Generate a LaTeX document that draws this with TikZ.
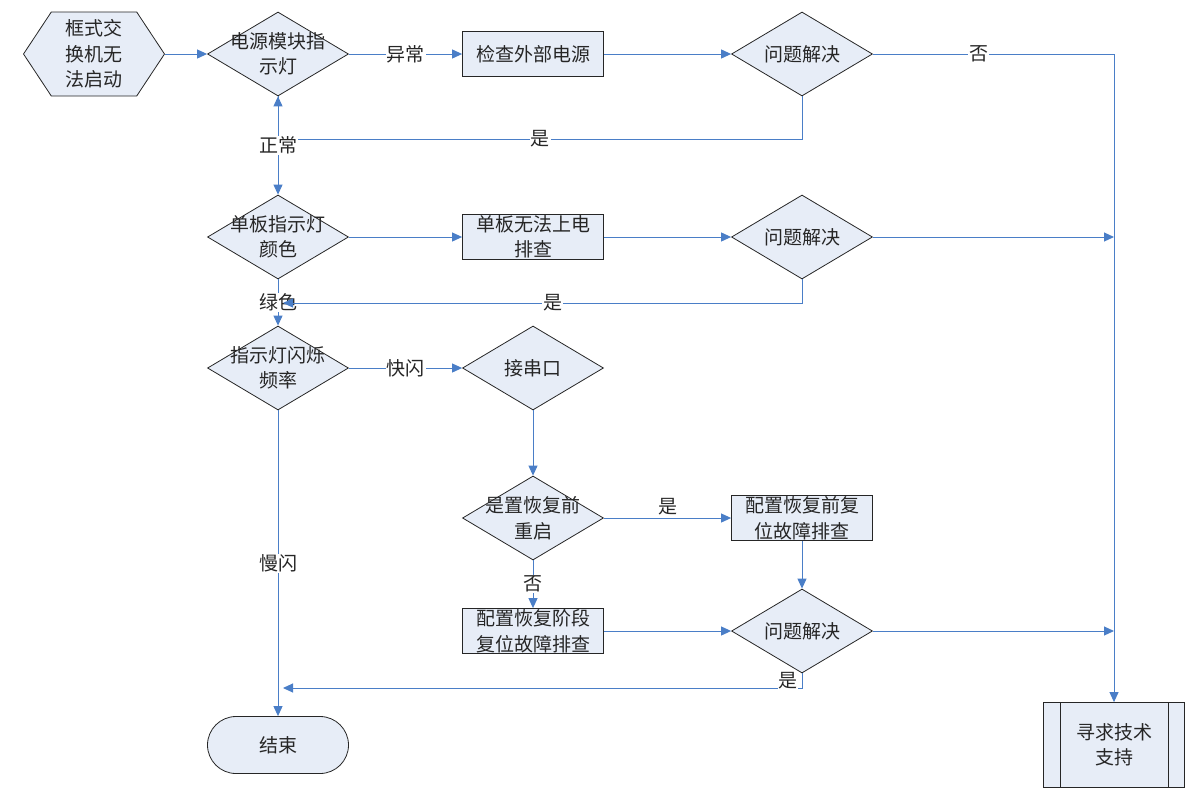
\documentclass[tikz,border=0pt]{standalone}
\usepackage{fontspec}
\setmainfont{Noto Sans CJK SC}
\usetikzlibrary{shapes.geometric,shapes.symbols,shapes.misc,arrows.meta}
\definecolor{fillc}{HTML}{E7EDF7}
\definecolor{linec}{HTML}{4A7EC7}
\begin{document}
\begin{tikzpicture}[x=1pt,y=-1pt,
  font=\fontsize{19}{25.5}\selectfont,
  base/.style={draw=black!85, fill=fillc, line width=0.8pt, inner sep=0pt, text=black!85},
  dia/.style={base, diamond, minimum width=141pt, minimum height=84pt},
  proc/.style={base, rectangle, minimum width=141pt, minimum height=45pt},
  txt/.style={align=center, inner sep=0pt, text=black!85},
  flow/.style={draw=linec, line width=1pt, -{Triangle[length=10pt,width=9pt]}},
  plain/.style={draw=linec, line width=1pt},
  lbl/.style={fill=white, inner sep=1pt, text=black!85}]
\useasboundingbox (0,0) rectangle (1204,790);

% nodes
\node[base, signal, signal to=west and east, signal pointer angle=113,
      minimum width=141pt, minimum height=84pt,
      label={[txt]center:框式交\\换机无\\法启动}] (start) at (94,54) {};
\node[dia, label={[txt]center:电源模块指\\示灯}] (d1) at (278,54) {};
\node[proc, label={[txt]center:检查外部电源}] (c1) at (533,54) {};
\node[dia, label={[txt]center:问题解决}] (q1) at (802,54) {};

\node[dia, label={[txt]center:单板指示灯\\颜色}] (d2) at (278,237) {};
\node[proc, label={[txt]center:单板无法上电\\排查}] (c2) at (533,237) {};
\node[dia, label={[txt]center:问题解决}] (q2) at (802,237) {};

\node[dia, label={[txt]center:指示灯闪烁\\频率}] (d3) at (278,368) {};
\node[dia, label={[txt]center:接串口}] (s1) at (533,368) {};
\node[dia, label={[txt]center:是置恢复前\\重启}] (s2) at (533,518) {};
\node[proc, label={[txt]center:配置恢复前复\\位故障排查}] (c3) at (802,518) {};
\node[proc, label={[txt]center:配置恢复阶段\\复位故障排查}] (c4) at (533,631) {};
\node[dia, label={[txt]center:问题解决}] (q3) at (802,631) {};

\node[base, rounded rectangle, minimum width=141pt, minimum height=57pt] (end) at (278,745) {结束};
\node[proc, minimum height=85pt, label={[txt]center:寻求技术\\支持}] (sup) at (1114,745) {};
\draw[draw=black!85, line width=0.8pt] ([xshift=17pt]sup.north west) -- ([xshift=17pt]sup.south west);
\draw[draw=black!85, line width=0.8pt] ([xshift=-17pt]sup.north east) -- ([xshift=-17pt]sup.south east);

% coordinates
\coordinate (k1) at (1114,54);
\coordinate (k2) at (1114,237);
\coordinate (k3) at (1114,631);
\coordinate (y1) at (802,139);
\coordinate (j1) at (278,139);
\coordinate (y2) at (802,303);
\coordinate (j2) at (283,303);
\coordinate (y3) at (802,688);
\coordinate (j3) at (283,688);

% row 1
\draw[flow] (start) -- (d1);
\draw[flow] (d1) -- node[lbl]{异常} (c1);
\draw[flow] (c1) -- (q1);
\draw[flow] (q1.east) -- node[lbl, pos=0.44]{否} (k1) -- (sup.north);
\draw[flow] (q1.south) -- (y1) -- node[lbl]{是} (j1) -- (d1.south);
\draw[flow] (d1.south) -- node[lbl]{正常} (d2.north);

% row 2
\draw[flow] (d2) -- (c2);
\draw[flow] (c2) -- (q2);
\draw[flow] (q2.east) -- (k2);
\draw[flow] (d2.south) -- node[lbl]{绿色} (d3.north);
\draw[flow] (q2.south) -- (y2) -- node[lbl, pos=0.48]{是} (j2);

% row 3
\draw[flow] (d3) -- node[lbl]{快闪} (s1);
\draw[flow] (s1.south) -- (s2.north);
\draw[flow] (s2) -- node[lbl, yshift=11pt]{是} (c3);
\draw[flow] (s2.south) -- node[lbl]{否} (c4.north);
\draw[flow] (c4) -- (q3);
\draw[flow] (c3.south) -- (q3.north);
\draw[flow] (q3.east) -- (k3);
\draw[flow] (d3.south) -- node[lbl]{慢闪} (end.north);
\draw[flow] (q3.south) -- (y3) -- (j3);
\node[lbl, inner sep=0.5pt] (yes3) at (788,681) {是};
\end{tikzpicture}
\end{document}
